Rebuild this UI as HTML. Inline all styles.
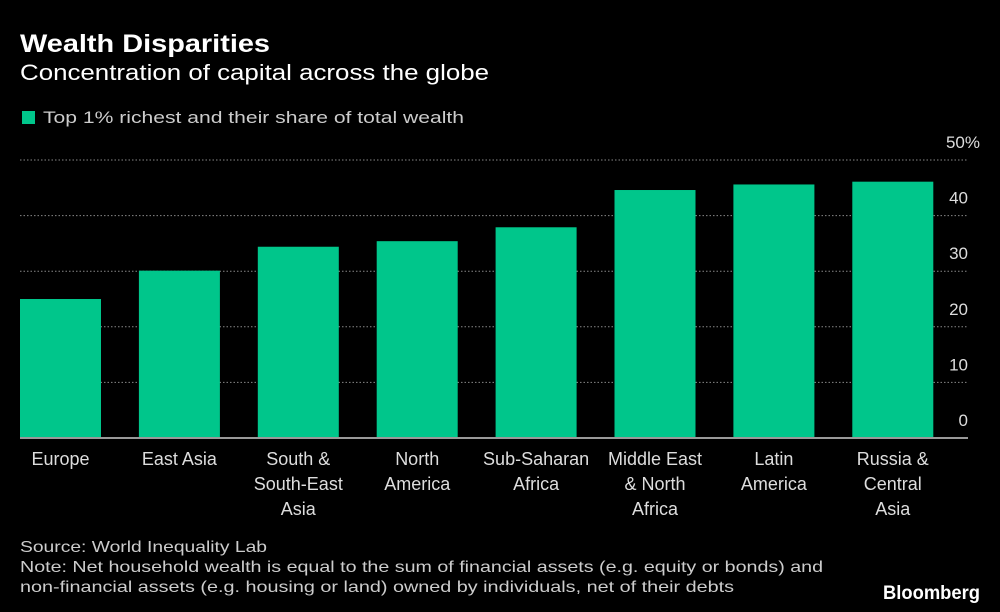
<!DOCTYPE html>
<html><head><meta charset="utf-8">
<style>
html,body{margin:0;padding:0;background:#000;}
svg{display:block;font-family:"Liberation Sans","DejaVu Sans",sans-serif;}
</style></head>
<body>
<svg id="chart" width="1000" height="612" viewBox="0 0 1000 612" xmlns="http://www.w3.org/2000/svg">
<rect width="1000" height="612" fill="#000"/>
<text x="20" y="52" fill="#fff" font-size="25" font-weight="bold" textLength="250" lengthAdjust="spacingAndGlyphs">Wealth Disparities</text>
<text x="20" y="80" fill="#fff" font-size="22" textLength="469" lengthAdjust="spacingAndGlyphs">Concentration of capital across the globe</text>
<rect x="22" y="111" width="13" height="13" fill="#00c68b"/>
<text x="43" y="123" fill="#ccc" font-size="17" textLength="421" lengthAdjust="spacingAndGlyphs">Top 1% richest and their share of total wealth</text>
<g id="grid"></g>
<g id="bars"></g>
<g id="yticks"></g>
<g id="xlabels"></g>
<line x1="20" x2="968" y1="438" y2="438" stroke="#999" stroke-width="2"/>
<text x="20" y="552" fill="#ccc" font-size="16" textLength="247" lengthAdjust="spacingAndGlyphs">Source: World Inequality Lab</text>
<text x="20" y="572" fill="#ccc" font-size="16" textLength="803" lengthAdjust="spacingAndGlyphs">Note: Net household wealth is equal to the sum of financial assets (e.g. equity or bonds) and</text>
<text x="20" y="592" fill="#ccc" font-size="16" textLength="714" lengthAdjust="spacingAndGlyphs">non-financial assets (e.g. housing or land) owned by individuals, net of their debts</text>
<text x="980" y="599" fill="#fff" font-size="19" font-weight="bold" text-anchor="end" textLength="97" lengthAdjust="spacingAndGlyphs">Bloomberg</text>
</svg>
<script>
const categories = [["Europe"],["East Asia"],["South &","South-East","Asia"],["North","America"],["Sub-Saharan","Africa"],["Middle East","& North","Africa"],["Latin","America"],["Russia &","Central","Asia"]];
const values = [25.0, 30.1, 34.4, 35.4, 37.9, 44.6, 45.6, 46.1];
const yTicks = [0, 10, 20, 30, 40, 50];
const yTickLabels = ["0","10","20","30","40","50%"];

const NS = "http://www.w3.org/2000/svg";
const y0 = 438, y1 = 160, yMax = 50;
function yScale(v){ return y0 - (v / yMax) * (y0 - y1); }
const x0 = 1.5, step = 118.9, barW = 81;
function xCenter(i){ return x0 + step * (i + 0.5) + 0; }

const grid = document.getElementById('grid');
const yt = document.getElementById('yticks');
yTicks.forEach((t, i) => {
  const y = yScale(t);
  if (t > 0) {
    const l = document.createElementNS(NS, 'line');
    l.setAttribute('x1', 20); l.setAttribute('x2', 968);
    l.setAttribute('y1', y); l.setAttribute('y2', y);
    l.setAttribute('stroke', '#888'); l.setAttribute('stroke-width', '1');
    l.setAttribute('stroke-dasharray', '1.5,2');
    
    
    grid.appendChild(l);
  }
  const tx = document.createElementNS(NS, 'text');
  tx.setAttribute('x', t === 50 ? 980 : 968);
  tx.setAttribute('y', y - 12);
  tx.setAttribute('fill', '#ddd');
  tx.setAttribute('font-size', '17');
  tx.setAttribute('text-anchor', 'end');
  tx.textContent = yTickLabels[i];
  
  
  yt.appendChild(tx);
});

const bars = document.getElementById('bars');
const xl = document.getElementById('xlabels');
values.forEach((v, i) => {
  const cx = 60.5 + step * i;
  const r = document.createElementNS(NS, 'rect');
  r.setAttribute('x', cx - barW / 2);
  r.setAttribute('y', yScale(v));
  r.setAttribute('width', barW);
  r.setAttribute('height', y0 - yScale(v));
  r.setAttribute('fill', '#00c68b');
  
  
  bars.appendChild(r);
  categories[i].forEach((line, j) => {
    const t = document.createElementNS(NS, 'text');
    t.setAttribute('x', cx);
    t.setAttribute('y', 465 + j * 25);
    t.setAttribute('fill', '#ddd');
    t.setAttribute('font-size', '18');
    t.setAttribute('text-anchor', 'middle');
    t.textContent = line;
    
    
    xl.appendChild(t);
  });
});
</script>
</body></html>
